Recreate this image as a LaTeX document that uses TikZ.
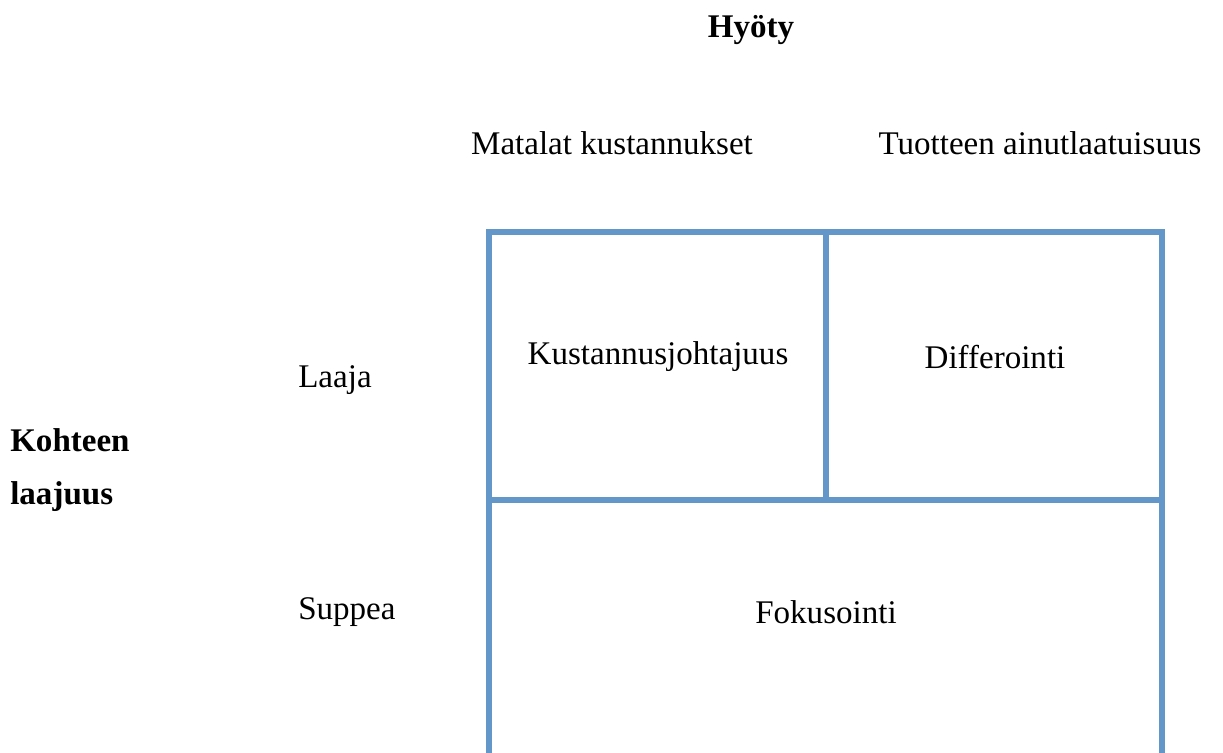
\documentclass[tikz,border=0pt]{standalone}
\usepackage{fontspec}
\setmainfont{Liberation Serif}
\usepackage{xcolor}
\usepackage{tikz}
\usetikzlibrary{positioning,calc}
\definecolor{gridblue}{RGB}{99,150,201}
\tikzset{
  cell/.style={line width=4.2pt, draw=gridblue, line cap=rect},
  lbl/.style={font=\fontsize{23.5}{28}\selectfont, inner sep=0pt},
  rowlbl/.style={lbl, anchor=west},
  axislbl/.style={font=\fontsize{23.5}{28}\selectfont\bfseries, inner sep=0pt},
  sidelbl/.style={axislbl, anchor=west}
}
\begin{document}
\begin{tikzpicture}[x=0.025cm, y=-0.025cm]
\useasboundingbox (0,0) rectangle (1223,752);
% grid
\draw[cell] (489,752) -- (489,232) -- (1162,232) -- (1162,752);
\draw[cell] (489,500) -- (1162,500);
\draw[cell] (826,232) -- (826,500);
% headings
\node[axislbl] (hyoty) at (751,30) {Hyöty};
\node[lbl] (matalat) at (612,143) {Matalat kustannukset};
\node[lbl] (ainut) at (1040,143) {Tuotteen ainutlaatuisuus};
% cells
\node[lbl] (kustjoht) at (658,357) {Kustannusjohtajuus};
\node[lbl] (differ) at (995,357) {Differointi};
\node[lbl] (fokus) at (826,612) {Fokusointi};
% rows
\node[rowlbl] (laaja) at (298,380) {Laaja};
\node[rowlbl] (suppea) at (298,612) {Suppea};
\node[sidelbl] (kohteen) at (10,440) {Kohteen};
\node[sidelbl] (laajuus) at (10,497) {laajuus};
\end{tikzpicture}
\end{document}
